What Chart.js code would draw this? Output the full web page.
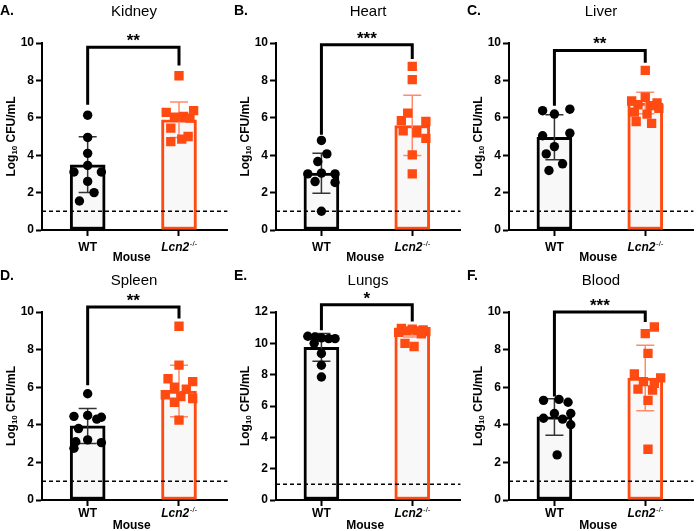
<!DOCTYPE html>
<html>
<head>
<meta charset="utf-8">
<script src="https://cdn.jsdelivr.net/npm/chart.js@4/dist/chart.umd.min.js"></script>
<style>
html, body { margin: 0; padding: 0; background: #fff; }
#fig { position: relative; width: 700px; height: 531px; overflow: hidden; }
.panel { position: absolute; }
</style>
</head>
<body>
<div id="fig"></div>
<script>
// groups and panels
const groups = ['WT', 'Lcn2'];
const organs = ['Kidney', 'Heart', 'Liver', 'Spleen', 'Lungs', 'Blood'];
const letters = ['A.', 'B.', 'C.', 'D.', 'E.', 'F.'];
const yMaxes = [10, 10, 10, 10, 12, 10];
const yStep = 2;
const detectionLimit = 1;

// individual mice, log10 CFU/mL (x offsets are the dot spread inside each bar)
const kidneyWT = [6.14, 4.95, 4.1, 3.45, 3.1, 3.1, 2.6, 2.0, 1.55];
const kidneyWTx = [0, 0, 0, 0, -0.15, 0.15, 0, 0.07, -0.09];
const kidneyKO = [8.25, 6.38, 6.29, 6.07, 6.04, 5.98, 5.45, 5.0, 4.86, 4.73];
const kidneyKOx = [0, 0.16, -0.14, 0.05, -0.05, 0.12, -0.09, 0.1, 0.03, -0.09];

const heartWT = [4.79, 4.07, 3.66, 3.04, 3.0, 3.0, 2.59, 2.54, 1.0];
const heartWTx = [0, 0.06, -0.04, 0, -0.15, 0.15, -0.07, 0.15, 0];
const heartKO = [8.75, 8.04, 6.25, 5.85, 5.8, 5.3, 5.2, 4.9, 4.02, 3.0];
const heartKOx = [0, 0, -0.05, -0.12, 0.15, -0.1, 0.05, 0.15, 0, 0];

const liverWT = [6.38, 6.2, 6.46, 5.04, 5.18, 4.46, 4.07, 3.54, 3.18];
const liverWTx = [-0.13, 0, 0.17, -0.13, 0.17, 0, -0.09, 0.09, -0.06];
const liverKO = [8.54, 7.1, 6.9, 6.8, 6.7, 6.65, 6.5, 6.3, 6.2, 5.8, 5.7];
const liverKOx = [0, 0, -0.15, 0.13, -0.08, 0.06, 0.15, -0.12, 0.02, -0.1, 0.07];

const spleenWT = [5.65, 4.45, 4.5, 4.4, 4.3, 3.8, 3.2, 3.1, 3.05, 2.75];
const spleenWTx = [0, -0.15, 0, 0.15, 0.1, -0.1, 0, -0.13, 0.15, -0.15];
const spleenKO = [9.24, 7.17, 6.45, 6.3, 6.0, 5.9, 5.6, 5.5, 5.4, 5.2, 4.25];
const spleenKOx = [0, 0, -0.12, 0.15, -0.05, 0.08, -0.15, 0.02, 0.15, -0.05, 0];

const lungsWT = [10.45, 10.4, 10.35, 10.3, 10.3, 10.0, 9.35, 8.6, 7.85];
const lungsWTx = [-0.15, -0.07, 0, 0.08, 0.15, -0.08, 0, 0, 0];
const lungsKO = [10.95, 10.9, 10.85, 10.8, 10.8, 10.75, 10.7, 10.6, 10.0, 9.8];
const lungsKOx = [-0.12, 0, 0.12, -0.06, 0.06, 0.15, -0.15, 0.1, -0.08, 0.02];

const bloodWT = [5.35, 5.3, 5.2, 4.6, 4.6, 4.35, 4.3, 4.0, 2.4];
const bloodWTx = [0.05, -0.12, 0.15, 0, 0.18, -0.12, 0.09, 0.18, 0.03];
const bloodKO = [9.2, 8.85, 7.8, 6.7, 6.5, 6.3, 6.2, 5.9, 5.85, 5.3, 2.7];
const bloodKOx = [0.1, 0, 0.03, -0.12, 0.17, -0.02, 0.1, -0.08, 0.08, 0.03, 0.03];

// bar heights (mean) and error bars (SD) per organ, [WT, Lcn2-/-]
const barMeans = [[3.49, 5.89], [3.04, 5.59], [4.96, 6.79], [3.94, 5.8], [9.74, 10.7], [4.42, 6.49]];
const barSDs = [[1.49, 0.95], [1.07, 1.61], [1.2, 0.57], [0.93, 1.37], [0.88, 0.3], [0.97, 1.74]];

// significance brackets: [top, WT leg end, Lcn2 leg end]
const brackets = [[9.77, 6.7, 8.8], [9.9, 5.1, 9.15], [9.6, 6.65, 8.95], [10.27, 6.1, 9.65], [12.47, 10.83, 11.4], [10.0, 5.5, 9.47]];
const stars = ['**', '***', '**', '**', '*', '***'];

const dotsWT = [kidneyWT, heartWT, liverWT, spleenWT, lungsWT, bloodWT];
const dotsWTx = [kidneyWTx, heartWTx, liverWTx, spleenWTx, lungsWTx, bloodWTx];
const dotsKO = [kidneyKO, heartKO, liverKO, spleenKO, lungsKO, bloodKO];
const dotsKOx = [kidneyKOx, heartKOx, liverKOx, spleenKOx, lungsKOx, bloodKOx];

const orange = '#ff4a12';
const orangeErr = '#ff8a6c';
const fontFam = '"Liberation Sans", Arial, Helvetica, sans-serif';

const colLeft = [0, 234, 467];
const colWidth = [234, 233, 233];
const rowTop = [0, 265];
const rowHeight = [265, 266];
const rowPadTop = [43, 47];
const rowXHeight = [35, 31];
const rowTickLabelGap = [18, 14];
const rowMouseGap = [28, 26];
const rowTitleY = [11, 15];

function panelPlugin(i, row) {
    return {
        id: 'panel' + i,
        afterDatasetDraw(chart, args) {
            if (args.index !== 0) return;
            const ctx = chart.ctx;
            const xs = chart.scales.x, ys = chart.scales.y;
            const area = chart.chartArea;
            ctx.save();
            // limit of detection
            ctx.strokeStyle = '#000';
            ctx.lineWidth = 1.5;
            ctx.setLineDash([4, 3]);
            const yl = ys.getPixelForValue(detectionLimit);
            ctx.beginPath();
            ctx.moveTo(area.left, yl);
            ctx.lineTo(area.right, yl);
            ctx.stroke();
            ctx.setLineDash([]);
            // error bars
            groups.forEach((g, j) => {
                const cx = xs.getPixelForValue(j + 0.5);
                const m = barMeans[i][j], sd = barSDs[i][j];
                const top = ys.getPixelForValue(m + sd);
                const bot = ys.getPixelForValue(m - sd);
                ctx.strokeStyle = j ? orangeErr : '#333';
                ctx.lineWidth = 1.5;
                ctx.beginPath();
                ctx.moveTo(cx, top); ctx.lineTo(cx, bot);
                ctx.moveTo(cx - 9, top); ctx.lineTo(cx + 9, top);
                ctx.moveTo(cx - 9, bot); ctx.lineTo(cx + 9, bot);
                ctx.stroke();
            });
            ctx.restore();
        },
        afterDraw(chart) {
            const ctx = chart.ctx;
            const xs = chart.scales.x, ys = chart.scales.y;
            const area = chart.chartArea;
            const x1 = xs.getPixelForValue(0.5), x2 = xs.getPixelForValue(1.5);
            ctx.save();
            // bracket
            const b = brackets[i];
            const by = ys.getPixelForValue(b[0]);
            ctx.strokeStyle = '#000';
            ctx.lineWidth = 3;
            ctx.lineJoin = 'miter';
            ctx.beginPath();
            ctx.moveTo(x1, ys.getPixelForValue(b[1]));
            ctx.lineTo(x1, by);
            ctx.lineTo(x2, by);
            ctx.lineTo(x2, ys.getPixelForValue(b[2]));
            ctx.stroke();
            ctx.fillStyle = '#000';
            ctx.textAlign = 'center';
            ctx.textBaseline = 'alphabetic';
            ctx.font = 'bold 17px ' + fontFam;
            ctx.fillText(stars[i], (x1 + x2) / 2, by - 1);

            // letter and title
            ctx.textBaseline = 'middle';
            ctx.textAlign = 'left';
            ctx.font = 'bold 14px ' + fontFam;
            ctx.fillText(letters[i], 0, 11);
            ctx.textAlign = 'center';
            ctx.font = '15px ' + fontFam;
            ctx.fillText(organs[i], 134, rowTitleY[row] + 1);

            // x tick labels
            const ty = area.bottom + rowTickLabelGap[row];
            ctx.font = 'bold 12px ' + fontFam;
            ctx.fillText(groups[0], x1, ty);
            ctx.font = 'italic bold 12px ' + fontFam;
            const w1 = ctx.measureText(groups[1]).width;
            ctx.font = '8px ' + fontFam;
            const sup = '-/-';
            const w2 = ctx.measureText(sup).width;
            let sx = x2 - (w1 + w2) / 2;
            ctx.textAlign = 'left';
            ctx.font = 'italic bold 12px ' + fontFam;
            ctx.fillText(groups[1], sx, ty);
            ctx.font = '8px ' + fontFam;
            ctx.fillText(sup, sx + w1 + 0.5, ty - 4);

            // x title
            ctx.textAlign = 'center';
            ctx.font = 'bold 12px ' + fontFam;
            ctx.fillText('Mouse', (area.left + area.right) / 2 - 3, area.bottom + rowMouseGap[row]);

            // y title, rotated
            ctx.translate(12, (area.top + area.bottom) / 2);
            ctx.rotate(-Math.PI / 2);
            ctx.textAlign = 'left';
            ctx.font = 'bold 12px ' + fontFam;
            const a = ctx.measureText('Log').width;
            const c = ctx.measureText(' CFU/mL').width;
            ctx.font = 'bold 8px ' + fontFam;
            const s = ctx.measureText('10').width;
            let px = -(a + s + c) / 2;
            ctx.font = 'bold 12px ' + fontFam;
            ctx.fillText('Log', px, 0);
            ctx.font = 'bold 8px ' + fontFam;
            ctx.fillText('10', px + a, 3);
            ctx.font = 'bold 12px ' + fontFam;
            ctx.fillText(' CFU/mL', px + a + s, 0);
            ctx.restore();
        }
    };
}

const fig = document.getElementById('fig');

organs.forEach((organ, i) => {
    const row = Math.floor(i / 3), col = i % 3;
    const div = document.createElement('div');
    div.className = 'panel';
    div.style.left = colLeft[col] + 'px';
    div.style.top = rowTop[row] + 'px';
    const canvas = document.createElement('canvas');
    canvas.width = colWidth[col];
    canvas.height = rowHeight[row];
    canvas.style.width = colWidth[col] + 'px';
    canvas.style.height = rowHeight[row] + 'px';
    div.appendChild(canvas);
    fig.appendChild(div);

    const wtPoints = dotsWT[i].map((v, k) => ({ x: 0.5 + dotsWTx[i][k], y: v }));
    const koPoints = dotsKO[i].map((v, k) => ({ x: 1.5 + dotsKOx[i][k], y: v }));

    new Chart(canvas.getContext('2d'), {
        type: 'bar',
        data: {
            datasets: [
                {
                    type: 'bar',
                    data: groups.map((g, j) => ({ x: j + 0.5, y: barMeans[i][j] })),
                    backgroundColor: ['#f8f8f8', '#f8f8f8'],
                    borderColor: ['#000', orange],
                    borderWidth: 3,
                    borderSkipped: false,
                    barThickness: 35,
                    order: 3
                },
                {
                    type: 'scatter',
                    data: wtPoints,
                    pointStyle: 'circle',
                    pointRadius: 4.7,
                    pointHoverRadius: 4.7,
                    backgroundColor: '#000',
                    borderWidth: 0,
                    order: 2
                },
                {
                    type: 'scatter',
                    data: koPoints,
                    pointStyle: 'rect',
                    pointRadius: 6.6,
                    pointHoverRadius: 6.6,
                    backgroundColor: orange,
                    borderWidth: 0,
                    order: 1
                }
            ]
        },
        options: {
            responsive: false,
            animation: false,
            events: [],
            layout: { padding: { top: rowPadTop[row], right: 1, bottom: 0, left: 0 } },
            plugins: { legend: { display: false }, tooltip: { enabled: false }, title: { display: false } },
            scales: {
                x: {
                    type: 'linear',
                    offset: false,
                    min: 0,
                    max: 2.03,
                    afterBuildTicks: (scale) => { scale.ticks = [{ value: 0.5 }, { value: 1.5 }]; },
                    afterFit: (scale) => { scale.height = rowXHeight[row]; },
                    ticks: { display: false },
                    grid: { display: true, offset: false, drawOnChartArea: false, drawTicks: true, tickLength: 6, tickColor: '#000', tickWidth: 2 },
                    border: { display: true, color: '#000', width: 2 }
                },
                y: {
                    min: 0,
                    max: yMaxes[i],
                    afterFit: (scale) => { scale.width = 42; },
                    ticks: { stepSize: yStep, color: '#000', font: { family: fontFam, size: 12, weight: 'bold' }, padding: 2 },
                    grid: { display: true, drawOnChartArea: false, drawTicks: true, tickLength: 6, tickColor: '#000', tickWidth: 2 },
                    border: { display: true, color: '#000', width: 2 }
                }
            }
        },
        plugins: [panelPlugin(i, row)]
    });
});
</script>
</body>
</html>
